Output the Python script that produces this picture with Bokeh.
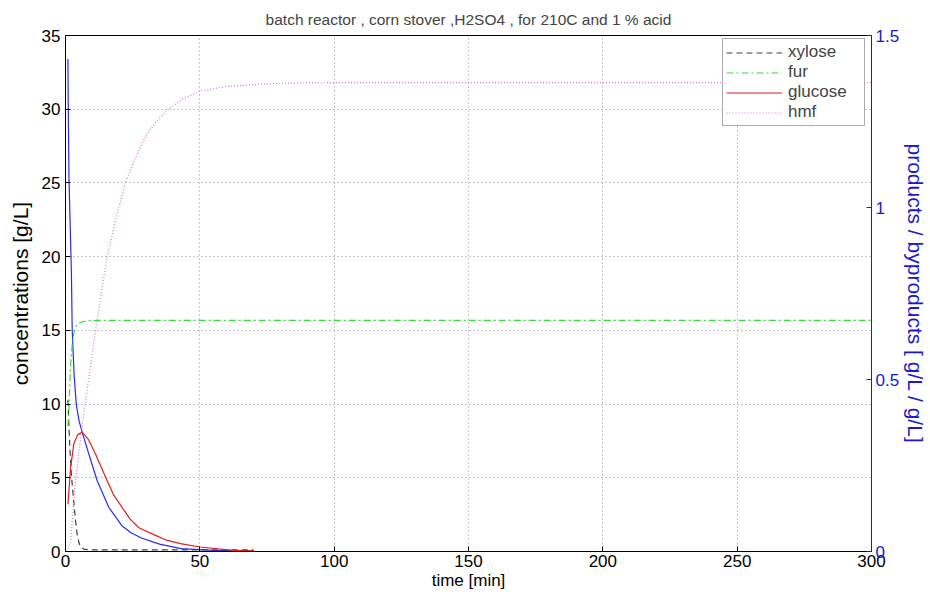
from bokeh.plotting import figure
from bokeh.models import Range1d, LinearAxis, FixedTicker, Legend, LegendItem
from bokeh.embed import file_html
from bokeh.resources import INLINE

# time grid [min] for each curve and the concentrations read along them
blue_t = [0.9, 1.0, 1.3, 2.2, 2.5, 3.2, 4.0, 5.0, 6.2, 8.7, 11.8, 16.1, 21.0, 24.5, 28.5, 35.0, 43.0, 55.0, 70.0]
blue_c = [33.4, 30.6, 25.3, 18.9, 15.0, 12.0, 10.0, 8.9, 8.1, 6.6, 4.8, 3.0, 1.75, 1.25, 0.9, 0.5, 0.2, 0.08, 0.02]

# products / byproducts on the right axis [g/L / g/L]
xylose_t = [0.9, 1.2, 1.6, 2.2, 2.9, 3.6, 4.3, 5.0, 5.6, 7.0, 10.0, 20.0, 40.0, 70.0]
xylose_c = [0.441, 0.377, 0.304, 0.223, 0.159, 0.099, 0.051, 0.026, 0.013, 0.006, 0.005, 0.005, 0.005, 0.005]

fur_t = [0.9, 1.2, 1.9, 2.5, 3.1, 4.0, 5.6, 8.0, 15.0, 300.0]
fur_c = [0.364, 0.403, 0.546, 0.600, 0.634, 0.656, 0.666, 0.671, 0.672, 0.672]

glucose_t = [0.9, 1.2, 1.9, 3.1, 4.5, 6.2, 8.5, 11.2, 15.5, 18.0, 21.0, 24.0, 27.3, 33.5, 37.2, 42.8, 50.0, 62.5, 70.0]
glucose_c = [0.137, 0.167, 0.244, 0.313, 0.339, 0.347, 0.326, 0.283, 0.206, 0.163, 0.129, 0.095, 0.069, 0.047, 0.034, 0.023, 0.013, 0.003, 0.002]

hmf_t = [0.9, 1.9, 3.7, 6.8, 11.2, 14.1, 15.5, 19.0, 22.3, 26.0, 30.0, 33.5, 38.3, 43.5, 50.0, 60.0, 78.0, 100.0, 300.0]
hmf_c = [0.009, 0.030, 0.206, 0.403, 0.643, 0.789, 0.857, 0.977, 1.071, 1.144, 1.209, 1.247, 1.286, 1.315, 1.338, 1.352, 1.361, 1.363, 1.363]

x_ticks = [0, 50, 100, 150, 200, 250, 300]
left_ticks = [0, 5, 10, 15, 20, 25, 30, 35]
right_ticks = [0, 0.5, 1, 1.5]

FONT = "Liberation Sans"
AXIS_BLUE = "#1a1acc"

p = figure(width=930, height=597, output_backend="svg", toolbar_location=None,
           x_range=Range1d(0, 300), y_range=Range1d(0, 35),
           min_border_left=65, min_border_right=58, min_border_top=35, min_border_bottom=46,
           title="batch reactor , corn stover ,H2SO4 , for 210C and 1 % acid")
p.extra_y_ranges = {"right": Range1d(0, 1.5)}

p.title.align = "center"
p.title.text_font = FONT
p.title.text_font_style = "normal"
p.title.text_font_size = "15.5px"
p.title.standoff = 16
p.background_fill_color = "white"
p.border_fill_color = "white"
p.outline_line_color = "black"
p.outline_line_width = 1

# dotted grid
for g in (p.xgrid, p.ygrid):
    g.grid_line_color = "#333333"
    g.grid_line_alpha = 0.55
    g.grid_line_dash = "1 3"
    g.grid_line_width = 1
p.xgrid.ticker = FixedTicker(ticks=x_ticks)
p.ygrid.ticker = FixedTicker(ticks=left_ticks)

def style_axis(ax, color):
    ax.axis_line_color = color
    ax.major_tick_line_color = color
    ax.major_tick_in = 5
    ax.major_tick_out = 0
    ax.minor_tick_line_color = None
    ax.major_label_text_color = color
    ax.major_label_text_font = FONT
    ax.major_label_text_font_size = "17px"
    ax.axis_label_text_color = color
    ax.axis_label_text_font = FONT
    ax.axis_label_text_font_style = "normal"

xa = p.xaxis[0]
xa.ticker = FixedTicker(ticks=x_ticks)
xa.axis_label = "time [min]"
style_axis(xa, "black")
xa.axis_label_text_font_size = "17px"
xa.major_label_standoff = 3
xa.axis_label_standoff = 1

ya = p.yaxis[0]
ya.ticker = FixedTicker(ticks=left_ticks)
ya.axis_label = "concentrations [g/L]"
style_axis(ya, "black")
ya.axis_label_text_font_size = "21px"
ya.major_label_standoff = 5
ya.axis_label_standoff = 7

ra = LinearAxis(y_range_name="right", ticker=FixedTicker(ticks=right_ticks),
                axis_label="products / byproducts [ g/L / g/L]")
style_axis(ra, AXIS_BLUE)
ra.axis_label_text_font_size = "21px"
ra.major_label_standoff = 4
ra.axis_label_standoff = 2
p.add_layout(ra, "right")

p.line(blue_t, blue_c, line_color="#2a2af0", line_width=1.2)
r_xyl = p.line(xylose_t, xylose_c, y_range_name="right", line_color="#404040",
               line_dash="6 4", line_width=1.2)
r_fur = p.line(fur_t, fur_c, y_range_name="right", line_color="#33dd33",
               line_dash="7 3 2 3", line_width=1.2)
r_glu = p.line(glucose_t, glucose_c, y_range_name="right", line_color="#e02020", line_width=1.2)
r_hmf = p.line(hmf_t, hmf_c, y_range_name="right", line_color="#e070e0",
               line_dash="1 2", line_width=1.2)

legend = Legend(items=[LegendItem(label="xylose", renderers=[r_xyl]),
                       LegendItem(label="fur", renderers=[r_fur]),
                       LegendItem(label="glucose", renderers=[r_glu]),
                       LegendItem(label="hmf", renderers=[r_hmf])],
                location=(657, 425), orientation="vertical")
legend.label_text_font = FONT
legend.label_text_font_size = "17px"
legend.glyph_width = 56
legend.glyph_height = 15
legend.label_height = 15
legend.label_width = 73
legend.spacing = -2
legend.padding = 3
legend.margin = 0
legend.label_standoff = 6
legend.border_line_color = "#555555"
legend.border_line_width = 1
legend.background_fill_color = "white"
legend.background_fill_alpha = 1
p.add_layout(legend, "center")

open("out.html", "w").write(file_html(p, INLINE))
